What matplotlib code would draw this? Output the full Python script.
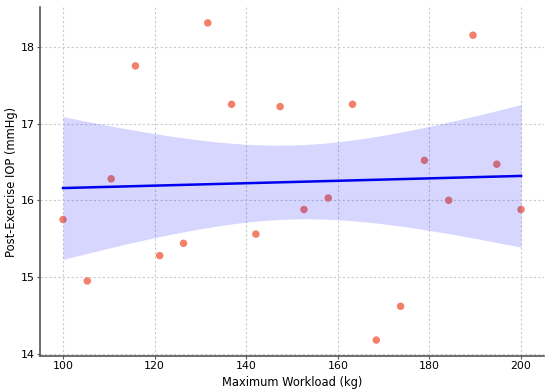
import numpy as np
import matplotlib
matplotlib.use("Agg")
import matplotlib.pyplot as plt

workload = [100.0, 105.3, 110.5, 115.8, 121.1, 126.3, 131.6, 136.8, 142.1, 147.4,
            152.6, 157.9, 163.2, 168.4, 173.7, 178.9, 184.2, 189.5, 194.7, 200.0]
iop = [15.75, 14.95, 16.28, 17.75, 15.28, 15.44, 18.31, 17.25, 15.56, 17.22,
       15.88, 16.03, 17.25, 14.18, 14.62, 16.52, 16.00, 18.15, 16.47, 15.88]

x = np.array(workload)
y = np.array(iop)

fig = plt.figure(figsize=(5.5, 3.92), dpi=100)
ax = fig.add_axes([0.073, 0.092, 0.916, 0.890])

ax.scatter(x, y, s=29, color="#f5806a", edgecolors="none", zorder=2)

# linear fit with confidence band
n = len(x)
b, a = np.polyfit(x, y, 1)
grid = np.linspace(x.min(), x.max(), 100)
fit = a + b * grid
resid = y - (a + b * x)
s = np.sqrt(np.sum(resid ** 2) / (n - 2))
sxx = np.sum((x - x.mean()) ** 2)
se = s * np.sqrt(1.0 / n + (grid - x.mean()) ** 2 / sxx)
t = 1.85
ax.fill_between(grid, fit - t * se, fit + t * se, color="blue", alpha=0.16,
                linewidth=0, zorder=3)
ax.plot(grid, fit, color="#0000ee", linewidth=1.8, zorder=4)

ax.set_xlabel("Maximum Workload (kg)", fontsize=8.3, labelpad=3)
ax.set_ylabel("Post-Exercise IOP (mmHg)", fontsize=8.3, labelpad=2)
ax.set_xticks([100, 120, 140, 160, 180, 200])
ax.set_yticks([14, 15, 16, 17, 18])
ax.tick_params(labelsize=7.9, length=2, width=0.8, color="#555555", pad=2)
ax.grid(True, linestyle=(0, (2, 2)), color="#cccccc", linewidth=0.8)
ax.set_axisbelow(True)
for side in ["top", "right"]:
    ax.spines[side].set_visible(False)
for side in ["left", "bottom"]:
    ax.spines[side].set_color("#555555")
    ax.spines[side].set_linewidth(1.2)

fig.savefig("out.png", dpi=100)
